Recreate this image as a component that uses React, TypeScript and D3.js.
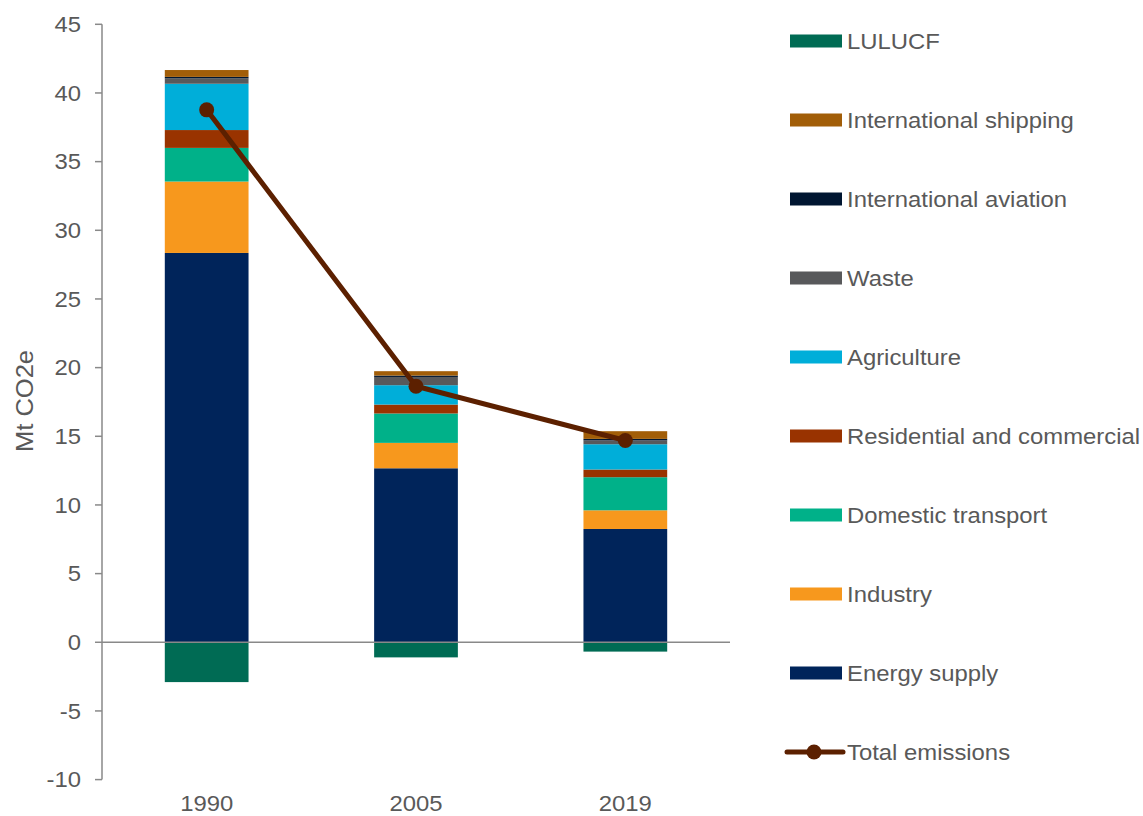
import React from "react";
import * as d3 from "d3";

// Emissions by sector, Mt CO2e
const years = ["1990", "2005", "2019"];
const energySupply = [28.35, 12.67, 8.25];
const industry = [5.2, 1.85, 1.36];
const domesticTransport = [2.45, 2.14, 2.41];
const residentialCommercial = [1.3, 0.65, 0.56];
const agriculture = [3.37, 1.41, 1.84];
const waste = [0.4, 0.6, 0.28];
const internationalAviation = [0.1, 0.1, 0.11];
const internationalShipping = [0.5, 0.32, 0.56];
const lulucf = [-2.9, -1.1, -0.68];
const totalEmissions = [38.77, 18.64, 14.69];
const yTicks = [-10, -5, 0, 5, 10, 15, 20, 25, 30, 35, 40, 45];

type Series = { name: string; color: string; values: number[] };

// stacked from the bottom up
const positiveSeries: Series[] = [
  { name: "Energy supply", color: "#00245A", values: energySupply },
  { name: "Industry", color: "#F7981D", values: industry },
  { name: "Domestic transport", color: "#00B189", values: domesticTransport },
  { name: "Residential and commercial", color: "#993300", values: residentialCommercial },
  { name: "Agriculture", color: "#00AED9", values: agriculture },
  { name: "Waste", color: "#58595B", values: waste },
  { name: "International aviation", color: "#001631", values: internationalAviation },
  { name: "International shipping", color: "#A25E08", values: internationalShipping },
];
const negativeSeries: Series = { name: "LULUCF", color: "#006B54", values: lulucf };
const lineColor = "#5C2000";

const W = 1143;
const H = 816;
const left = 102;
const right = 730;
const top = 24.3;
const bottom = 779.6;
const textColor = "#595959";
const axisColor = "#898989";
const font = "'Liberation Sans', Arial, sans-serif";
const fontSize = 21.5;
const widen = 1.11;

type LabelProps = {
  x: number;
  y: number;
  anchor?: "start" | "middle" | "end";
  rotate?: number;
  size?: number;
  children: React.ReactNode;
};

// text with a slightly wider set than the stock face
function Label({ x, y, anchor = "start", rotate = 0, size = fontSize, children }: LabelProps) {
  return (
    <text
      transform={`translate(${x},${y}) rotate(${rotate}) scale(${widen},1)`}
      textAnchor={anchor}
      dominantBaseline="central"
      fontSize={size}
      fill={textColor}
    >
      {children}
    </text>
  );
}

export default function App() {
  const y = d3.scaleLinear().domain([-10, 45]).range([bottom, top]);
  const x = d3
    .scaleBand<string>()
    .domain(years)
    .range([left, right])
    .paddingInner(0.6)
    .paddingOuter(0.3);

  const table = years.map((yr, i) => {
    const row: Record<string, number | string> = { year: yr };
    positiveSeries.forEach((s) => (row[s.name] = s.values[i]));
    return row;
  });
  const stacked = d3
    .stack<Record<string, number | string>>()
    .keys(positiveSeries.map((s) => s.name))
    .value((d, k) => d[k] as number)(table);

  const cx = (yr: string) => (x(yr) ?? 0) + x.bandwidth() / 2;
  const line = d3
    .line<number>()
    .x((_, i) => cx(years[i]))
    .y((v) => y(v));

  const legendItems = [
    { ...negativeSeries, kind: "rect" },
    ...[...positiveSeries].reverse().map((s) => ({ ...s, kind: "rect" })),
    { name: "Total emissions", color: lineColor, values: totalEmissions, kind: "line" },
  ];

  return (
    <svg width={W} height={H} style={{ position: "absolute", left: 0, top: 0, fontFamily: font }}>
      <rect width={W} height={H} fill="#fff" />
      {/* stacked positive sectors */}
      {stacked.map((layer, li) => (
        <g key={layer.key} fill={positiveSeries[li].color}>
          {layer.map((d, i) => (
            <rect
              key={years[i]}
              x={x(years[i])}
              width={x.bandwidth()}
              y={y(d[1])}
              height={Math.max(0, y(d[0]) - y(d[1]))}
            />
          ))}
        </g>
      ))}
      {/* land use sink below zero */}
      <g fill={negativeSeries.color}>
        {negativeSeries.values.map((v, i) => (
          <rect key={years[i]} x={x(years[i])} width={x.bandwidth()} y={y(0)} height={y(v) - y(0)} />
        ))}
      </g>
      {/* axes */}
      <line x1={left} x2={right} y1={y(0)} y2={y(0)} stroke={axisColor} strokeWidth={1.5} />
      <line x1={left} x2={left} y1={top} y2={bottom} stroke={axisColor} strokeWidth={1.5} />
      {yTicks.map((t) => (
        <g key={t}>
          <line x1={left - 7} x2={left} y1={y(t)} y2={y(t)} stroke={axisColor} strokeWidth={1.5} />
          <Label x={81} y={y(t)} anchor="end">
            {t}
          </Label>
        </g>
      ))}
      {years.map((yr) => (
        <Label key={yr} x={cx(yr)} y={803} anchor="middle">
          {yr}
        </Label>
      ))}
      <Label x={25} y={401} anchor="middle" rotate={-90} size={23}>
        Mt CO2e
      </Label>
      {/* total emissions line */}
      <path d={line(totalEmissions) ?? ""} fill="none" stroke={lineColor} strokeWidth={5} />
      {totalEmissions.map((v, i) => (
        <circle key={years[i]} cx={cx(years[i])} cy={y(v)} r={7.5} fill={lineColor} />
      ))}
      {/* legend */}
      {legendItems.map((item, i) => {
        const cy = 41 + i * 79;
        return (
          <g key={item.name}>
            {item.kind === "rect" ? (
              <rect x={790} y={cy - 6.5} width={52} height={13} fill={item.color} />
            ) : (
              <g>
                <line x1={787} x2={843} y1={cy} y2={cy} stroke={item.color} strokeWidth={5} strokeLinecap="round" />
                <circle cx={814} cy={cy} r={7.5} fill={item.color} />
              </g>
            )}
            <Label x={847} y={cy}>
              {item.name}
            </Label>
          </g>
        );
      })}
    </svg>
  );
}
